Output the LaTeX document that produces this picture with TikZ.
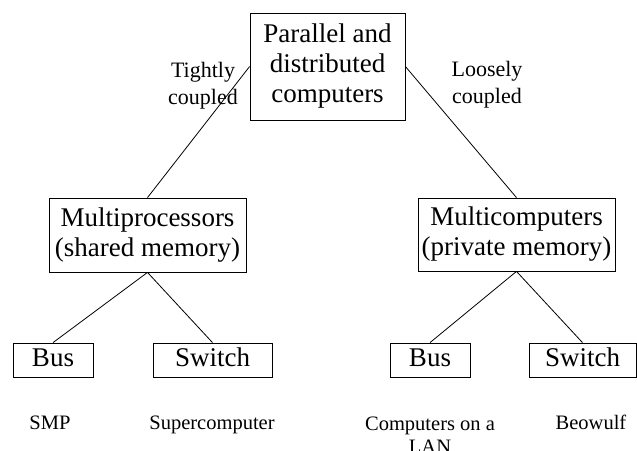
\documentclass[tikz,border=0pt]{standalone}
\usepackage{fontspec}
\setmainfont{Liberation Serif}
\begin{document}
\begin{tikzpicture}[x=1pt,y=-1pt,
  box/.style={draw, line width=0.8pt, inner sep=0pt, align=center,
    font=\fontsize{27}{30}\selectfont},
  note/.style={inner sep=0pt, align=center, font=\fontsize{22}{27}\selectfont},
  leaf/.style={inner sep=0pt, align=center, font=\fontsize{20.5}{23}\selectfont},
  link/.style={line width=0.8pt}]
\useasboundingbox (0,0) rectangle (637,450);

% classification boxes
\node[box, minimum width=155pt, minimum height=107pt] (top) at (327.5,66.5)
  {\strut Parallel and\\\strut distributed\\\strut computers};
\node[box, minimum width=197pt, minimum height=74pt] (mp) at (147.5,235)
  {\strut Multiprocessors\\\strut (shared memory)};
\node[box, minimum width=197pt, minimum height=73pt] (mc) at (516.5,234.5)
  {\strut Multicomputers\\\strut (private memory)};
\node[box, minimum width=80pt, minimum height=34pt] (busl) at (53,360) {\strut Bus};
\node[box, minimum width=119pt, minimum height=34pt] (swl) at (212.5,360) {\strut Switch};
\node[box, minimum width=80pt, minimum height=34pt] (busr) at (430,360) {\strut Bus};
\node[box, minimum width=107pt, minimum height=34pt] (swr) at (582.5,360) {\strut Switch};

% coupling labels
\node[note] (tight) at (203,86) {\strut Tightly\\\strut coupled};
\node[note] (loose) at (487,85) {\strut Loosely\\\strut coupled};

% examples
\node[leaf] (smp) at (50,424.4) {\strut SMP};
\node[leaf] (super) at (212,424.4) {\strut Supercomputer};
\node[leaf] (lan) at (430,436.9) {\strut Computers on a\\\strut LAN};
\node[leaf] (beo) at (591,424.4) {\strut Beowulf};

% tree edges
\draw[link] (top.west) -- (mp.north);
\draw[link] (top.east) -- (mc.north);
\draw[link] (mp.south) -- (busl.north);
\draw[link] (mp.south) -- (swl.north);
\draw[link] (mc.south) -- (busr.north);
\draw[link] (mc.south) -- (swr.north);
\end{tikzpicture}
\end{document}
